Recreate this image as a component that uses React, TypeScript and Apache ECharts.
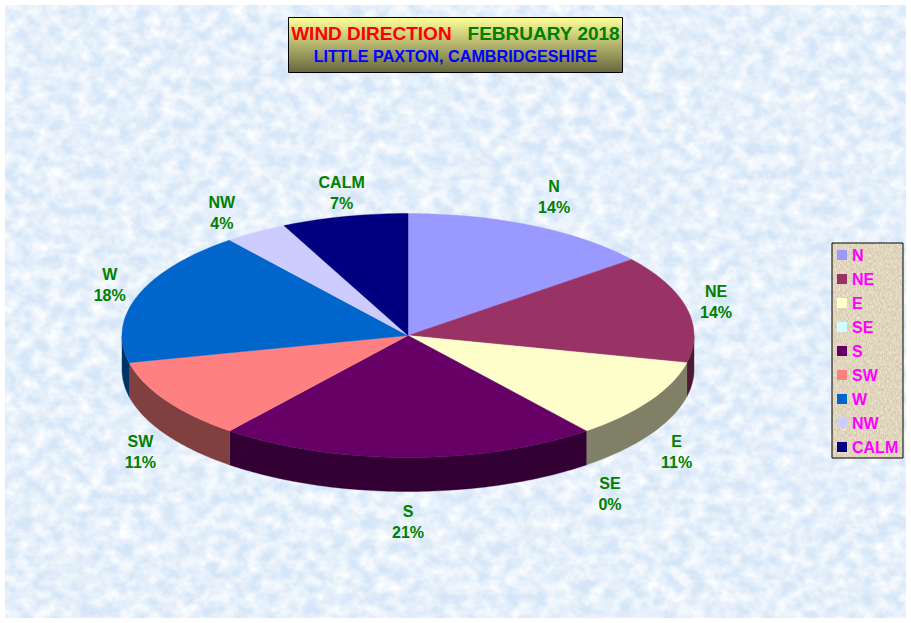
import React, { useEffect, useRef } from "react";
import * as echarts from "echarts";

// Days per direction in February 2018 (28 days), which give the printed percentages.
const categories = ["N", "NE", "E", "SE", "S", "SW", "W", "NW", "CALM"];
const dayCounts = [4, 4, 3, 0, 6, 3, 5, 1, 2];
const topColors = ["#9999FF", "#993366", "#FFFFCC", "#CCFFFF", "#660066", "#FF8080", "#0066CC", "#CCCCFF", "#000080"];
const wallColors = ["#4D4D80", "#4D1933", "#808066", "#668080", "#330033", "#804040", "#003366", "#666680", "#000040"];

const WIDTH = 911;
const HEIGHT = 623;
const CX = 408;
const CY = 335.5;
const RX = 286;
const RY = 122;
const DEPTH = 34;
const FONT = '"Liberation Sans", Arial, sans-serif';

const total = dayCounts.reduce((a, b) => a + b, 0);

function rim(deg: number, drop = 0): number[] {
  const r = (deg * Math.PI) / 180;
  return [CX + RX * Math.sin(r), CY - RY * Math.cos(r) + drop];
}

function arcPoints(a: number, b: number, drop = 0): number[][] {
  const pts: number[][] = [];
  const steps = Math.max(1, Math.ceil(b - a));
  for (let i = 0; i <= steps; i++) pts.push(rim(a + ((b - a) * i) / steps, drop));
  return pts;
}

const labelNudge: Record<string, number[]> = {
  N: [9, -6],
  NE: [0, -1],
  E: [1, 2],
  SE: [5, 6],
  S: [0, 0],
  SW: [0, 2],
  W: [0, -2],
  NW: [-18, 2],
  CALM: [4, 1],
};

function renderSlice(index: number) {
  const before = dayCounts.slice(0, index).reduce((a, b) => a + b, 0);
  const start = (before / total) * 360;
  const end = ((before + dayCounts[index]) / total) * 360;
  const mid = (start + end) / 2;
  const name = categories[index];
  const children: any[] = [];

  if (end > start) {
    const wa = Math.max(start, 90);
    const wb = Math.min(end, 270);
    if (wb > wa) {
      const topEdge = arcPoints(wa, wb);
      const bottomEdge = arcPoints(wa, wb, DEPTH).reverse();
      children.push({
        type: "polygon",
        shape: { points: [...topEdge, ...bottomEdge] },
        style: { fill: wallColors[index], stroke: wallColors[index], lineWidth: 0.4 },
      });
    }
    children.push({
      type: "polygon",
      shape: { points: [[CX, CY], ...arcPoints(start, end)] },
      style: { fill: topColors[index], stroke: topColors[index], lineWidth: 0.4 },
    });
  }

  const r = (mid * Math.PI) / 180;
  const s = Math.sin(r);
  const c = Math.cos(r);
  const nudge = labelNudge[name] || [0, 0];
  const lx = CX + (RX + 30) * s + nudge[0];
  const ly = (c >= 0 ? CY - (RY + 25) * c : CY + DEPTH + (RY + 30) * -c) + nudge[1];
  const pct = Math.round((dayCounts[index] / total) * 100);
  children.push({
    type: "text",
    z2: 100,
    style: {
      text: `${name}\n${pct}%`,
      x: lx,
      y: ly,
      align: "center",
      verticalAlign: "middle",
      lineHeight: 21,
      fill: "#008000",
      font: `bold 16px ${FONT}`,
    },
  });
  return { type: "group", children };
}

function textureUrl(w: number, h: number, base: string, freq: string, octaves: number, seed: number, matrix: string) {
  const svg =
    `<svg xmlns="http://www.w3.org/2000/svg" width="${w}" height="${h}">` +
    `<filter id="f" x="0" y="0" width="100%" height="100%"><feTurbulence type="fractalNoise" baseFrequency="${freq}" numOctaves="${octaves}" seed="${seed}"/>` +
    `<feColorMatrix values="${matrix}"/></filter>` +
    `<rect width="${w}" height="${h}" fill="${base}"/><rect width="${w}" height="${h}" filter="url(#f)"/></svg>`;
  return "data:image/svg+xml;charset=utf-8," + encodeURIComponent(svg);
}

const pageTexture = textureUrl(901, 613, "#D5E6F8", "0.07 0.08", 4, 7, "0 0 0 0 1 0 0 0 0 1 0 0 0 0 1 1.7 0 0 0 -0.45");
const legendTexture = textureUrl(71, 215, "#D6C8AC", "0.7 0.35", 2, 4, "0 0 0 0 1 0 0 0 0 0.97 0 0 0 0 0.88 1.2 0 0 0 -0.35");

export default function App() {
  const ref = useRef<HTMLDivElement>(null);

  useEffect(() => {
    document.body.style.margin = "0";
    const chart = echarts.init(ref.current!, null, { renderer: "svg", width: WIDTH, height: HEIGHT });
    chart.setOption({
      animation: false,
      backgroundColor: "#FFFFFF",
      title: [
        {
          left: "center",
          top: 22,
          padding: 0,
          text: "{a|WIND DIRECTION}{a|   }{b|FEBRUARY 2018}",
          textStyle: {
            fontFamily: FONT,
            fontWeight: "bold",
            rich: {
              a: { fontFamily: FONT, fontWeight: "bold", fontSize: 19, lineHeight: 22, color: "#FF0000" },
              b: { fontFamily: FONT, fontWeight: "bold", fontSize: 19, lineHeight: 22, color: "#008000" },
            },
          },
        },
        {
          left: "center",
          top: 47,
          padding: 0,
          text: "LITTLE PAXTON, CAMBRIDGESHIRE",
          textStyle: { fontFamily: FONT, fontWeight: "bold", fontSize: 16.2, lineHeight: 18, color: "#0000FF" },
        },
      ],
      legend: {
        orient: "vertical",
        left: 837,
        top: 247,
        padding: 0,
        itemWidth: 10,
        itemHeight: 10,
        itemGap: 8,
        icon: "rect",
        selectedMode: false,
        data: categories,
        textStyle: { color: "#FF00FF", fontFamily: FONT, fontWeight: "bold", fontSize: 16, lineHeight: 16 },
      },
      graphic: [
        {
          type: "image",
          z: 0,
          silent: true,
          style: { image: pageTexture, x: 5, y: 5, width: 901, height: 613 },
        },
        {
          type: "rect",
          z: 1,
          silent: true,
          shape: { x: 288.5, y: 17.5, width: 334, height: 55 },
          style: {
            stroke: "#000000",
            lineWidth: 1,
            fill: new echarts.graphic.LinearGradient(0, 0, 0, 1, [
              { offset: 0, color: "#FFFF99" },
              { offset: 1, color: "#666640" },
            ]),
          },
        },
        {
          type: "image",
          z: 1,
          silent: true,
          style: { image: legendTexture, x: 832, y: 243, width: 71, height: 215 },
        },
        {
          type: "rect",
          z: 2,
          silent: true,
          shape: { x: 832, y: 243, width: 71, height: 215 },
          style: { fill: "none", stroke: "#000000", lineWidth: 1 },
        },
      ],
      series: categories.map((name, i) => ({
        type: "custom",
        name,
        coordinateSystem: "none",
        silent: true,
        itemStyle: { color: topColors[i] },
        data: [{ name, value: dayCounts[i] }],
        renderItem: () => renderSlice(i),
      })),
    });
    return () => chart.dispose();
  }, []);

  return <div ref={ref} style={{ width: WIDTH, height: HEIGHT }} />;
}
